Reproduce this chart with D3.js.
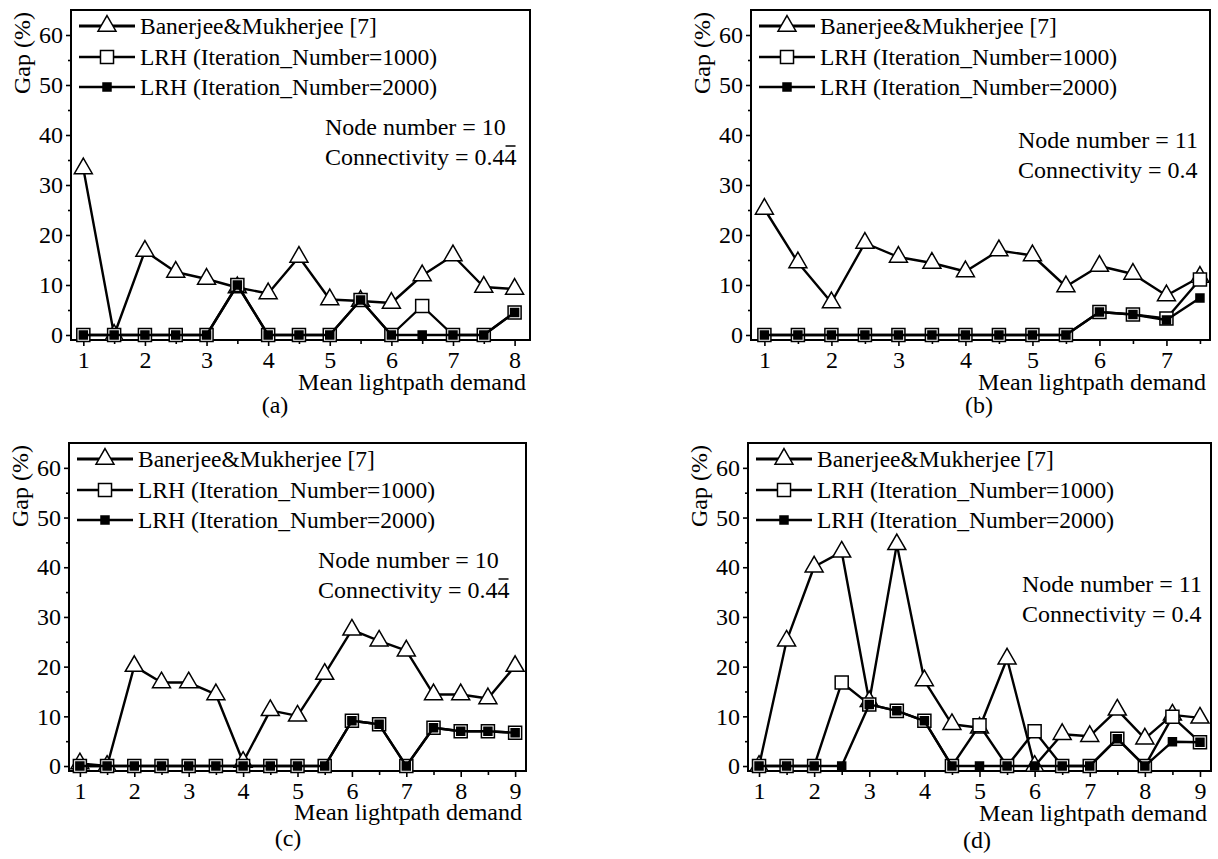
<!DOCTYPE html>
<html>
<head>
<meta charset="utf-8">
<script src="https://cdn.jsdelivr.net/npm/d3@7"></script>
<style>
  body { margin: 0; background: #fff; }
  svg text { font-family: "Liberation Serif", "Times New Roman", serif; fill: #000; }
</style>
</head>
<body>
<div id="chart"></div>
<script>
// values (Gap in %)
var demandA = [1, 1.5, 2, 2.5, 3, 3.5, 4, 4.5, 5, 5.5, 6, 6.5, 7, 7.5, 8];
var banerjeeA = [33.3, 0, 16.8, 12.6, 11.2, 9.5, 8.3, 15.6, 7.1, 6.8, 6.4, 11.9, 15.9, 9.6, 9.2];
var lrh1000A = [0, 0, 0, 0, 0, 10, 0, 0, 0, 7, 0, 5.8, 0, 0, 4.5];
var lrh2000A = [0, 0, 0, 0, 0, 10, 0, 0, 0, 7, 0, 0, 0, 0, 4.5];

var demandB = [1, 1.5, 2, 2.5, 3, 3.5, 4, 4.5, 5, 5.5, 6, 6.5, 7, 7.5];
var banerjeeB = [25.2, 14.5, 6.5, 18.4, 15.6, 14.4, 12.7, 16.9, 15.9, 9.7, 13.8, 12.2, 7.9, 11.6];
var lrh1000B = [0, 0, 0, 0, 0, 0, 0, 0, 0, 0, 4.6, 4.1, 3.3, 11.1];
var lrh2000B = [0, 0, 0, 0, 0, 0, 0, 0, 0, 0, 4.6, 4.1, 3.0, 7.4];

var demandC = [1, 1.5, 2, 2.5, 3, 3.5, 4, 4.5, 5, 5.5, 6, 6.5, 7, 7.5, 8, 8.5, 9];
var banerjeeC = [0.5, 0, 20.1, 16.8, 16.8, 14.4, 0.8, 11.2, 10.1, 18.5, 27.4, 25.2, 23.2, 14.4, 14.4, 13.6, 20.1];
var lrh1000C = [0, 0, 0, 0, 0, 0, 0, 0, 0, 0, 9.1, 8.4, 0, 7.7, 7.0, 7.0, 6.7];
var lrh2000C = [0, 0, 0, 0, 0, 0, 0, 0, 0, 0, 9.1, 8.4, 0, 7.7, 7.0, 7.0, 6.7];

var demandD = [1, 1.5, 2, 2.5, 3, 3.5, 4, 4.5, 5, 5.5, 6, 6.5, 7, 7.5, 8, 8.5, 9];
var banerjeeD = [0, 25.2, 40.1, 43.1, 13, 44.6, 17.2, 8.4, 7.7, 21.6, 0, 6.4, 6.0, 11.3, 5.5, 10.3, 9.7];
var lrh1000D = [0, 0, 0, 16.8, 12.4, 11.1, 9.1, 0, 8.2, 0, 7.0, 0, 0, 5.5, 0, 9.9, 4.8];
var lrh2000D = [0, 0, 0, 0, 12.4, 11.1, 9.1, 0, 0, 0, 0, 0, 0, 5.5, 0, 4.9, 4.8];

var gapTicks = [0, 10, 20, 30, 40, 50, 60];
var gapMinor = [5, 15, 25, 35, 45, 55];
var seriesNames = ["Banerjee&Mukherjee [7]", "LRH (Iteration_Number=1000)", "LRH (Iteration_Number=2000)"];
var yTitle = "Gap (%)";
var xTitle = "Mean lightpath demand";
var captions = ["(a)", "(b)", "(c)", "(d)"];
var nodeNotes = ["Node number = 10", "Node number = 11", "Node number = 10", "Node number = 11"];
// connectivity: main part, then the repeating digit (drawn with a bar over it)
var connNotes = [["Connectivity = 0.4", "4"], ["Connectivity = 0.4", ""], ["Connectivity = 0.4", "4"], ["Connectivity = 0.4", ""]];

function main() {
	var width = 1218;
	var height = 859;

	var svg = d3.select('#chart')
				.append('svg')
				.attr('width', width)
				.attr('height', height);

	// frame boxes and where the texts sit
	var panels = [
		{demand: demandA, series: [banerjeeA, lrh1000A, lrh2000A], xMax: 8.25,
		 left: 71, right: 530, top: 10, bottom: 340, noteX: 325, noteY: 135, xTitleY: 390, capX: 275, capY: 413},
		{demand: demandB, series: [banerjeeB, lrh1000B, lrh2000B], xMax: 7.65,
		 left: 751, right: 1210, top: 10, bottom: 340, noteX: 1018, noteY: 148, xTitleY: 390, capX: 979, capY: 413},
		{demand: demandC, series: [banerjeeC, lrh1000C, lrh2000C], xMax: 9.2,
		 left: 69, right: 526, top: 443, bottom: 771, noteX: 318, noteY: 568, xTitleY: 820, capX: 288, capY: 846},
		{demand: demandD, series: [banerjeeD, lrh1000D, lrh2000D], xMax: 9.2,
		 left: 748, right: 1211, top: 443, bottom: 771, noteX: 1022, noteY: 592, xTitleY: 821, capX: 977, capY: 848}
	];

	panels.forEach(function(p, i) {
		drawPanel(svg, p, i);
	});
}

function drawPanel(svg, p, i) {
	var g = svg.append('g');

	var x = d3.scaleLinear().domain([0.8, p.xMax]).range([p.left, p.right]);
	var y = d3.scaleLinear().domain([-1, 65]).range([p.bottom, p.top]);

	var lastX = p.demand[p.demand.length - 1];
	var majorX = d3.range(1, Math.floor(lastX) + 1);
	var minorX = p.demand.filter(function(d) { return d % 1 !== 0; });

	// y axis, major + minor ticks
	g.append('g')
		.attr('transform', 'translate(' + p.left + ',0)')
		.call(d3.axisLeft(y).tickValues(gapTicks).tickSize(5).tickPadding(3).tickFormat(d3.format('d')));
	g.append('g')
		.attr('transform', 'translate(' + p.left + ',0)')
		.call(d3.axisLeft(y).tickValues(gapMinor).tickSize(3).tickFormat(''));

	// x axis
	g.append('g')
		.attr('transform', 'translate(0,' + p.bottom + ')')
		.call(d3.axisBottom(x).tickValues(majorX).tickSize(6).tickPadding(5).tickFormat(d3.format('d')));
	g.append('g')
		.attr('transform', 'translate(0,' + p.bottom + ')')
		.call(d3.axisBottom(x).tickValues(minorX).tickSize(4).tickFormat(''));

	g.selectAll('.domain').remove();
	g.selectAll('.tick line').attr('stroke', '#000').attr('stroke-width', 1.6);
	g.selectAll('.tick text').attr('font-size', 24).attr('font-family', '"Liberation Serif", serif');

	// box round the plot
	g.append('rect')
		.attr('x', p.left)
		.attr('y', p.top)
		.attr('width', p.right - p.left)
		.attr('height', p.bottom - p.top)
		.attr('fill', 'none')
		.attr('stroke', '#000')
		.attr('stroke-width', 2);

	// axis titles
	g.append('text')
		.attr('transform', 'translate(' + (p.left - 41) + ',' + (p.top + 2) + ') rotate(-90)')
		.attr('text-anchor', 'end')
		.attr('font-size', 24)
		.text(yTitle);

	g.append('text')
		.attr('x', p.right - 4)
		.attr('y', p.xTitleY)
		.attr('text-anchor', 'end')
		.attr('font-size', 24)
		.text(xTitle);

	g.append('text')
		.attr('x', p.capX)
		.attr('y', p.capY)
		.attr('text-anchor', 'middle')
		.attr('font-size', 24)
		.text(captions[i]);

	// series lines + markers
	var line = d3.line()
				.x(function(d) { return x(d[0]); })
				.y(function(d) { return y(d[1]); });

	var markers = [
		d3.symbol().type(d3.symbolTriangle).size(140),
		d3.symbol().type(d3.symbolSquare).size(170),
		d3.symbol().type(d3.symbolSquare).size(64)
	];
	var fills = ['#fff', '#fff', '#000'];

	p.series.forEach(function(vals, s) {
		var pts = p.demand.map(function(d, k) { return [d, vals[k]]; });

		g.append('path')
			.datum(pts)
			.attr('d', line)
			.attr('fill', 'none')
			.attr('stroke', '#000')
			.attr('stroke-width', 2.4)
			.attr('stroke-linejoin', 'round');

		g.selectAll('.m' + s)
			.data(pts)
			.enter()
			.append('path')
			.attr('class', 'm' + s)
			.attr('d', markers[s])
			.attr('transform', function(d) { return 'translate(' + x(d[0]) + ',' + y(d[1]) + ')'; })
			.attr('fill', fills[s])
			.attr('stroke', '#000')
			.attr('stroke-width', 1.5);
	});

	// legend
	var rows = [16, 47, 77];
	seriesNames.forEach(function(name, s) {
		var ry = p.top + rows[s];
		g.append('line')
			.attr('x1', p.left + 8)
			.attr('x2', p.left + 64)
			.attr('y1', ry)
			.attr('y2', ry)
			.attr('stroke', '#000')
			.attr('stroke-width', s === 0 ? 3 : 2.5);
		g.append('path')
			.attr('d', markers[s])
			.attr('transform', 'translate(' + (p.left + 36) + ',' + ry + ')')
			.attr('fill', fills[s])
			.attr('stroke', '#000')
			.attr('stroke-width', 1.5);
		g.append('text')
			.attr('x', p.left + 69)
			.attr('y', ry + 8)
			.attr('font-size', 23.5)
			.text(name);
	});

	// node / connectivity note
	g.append('text')
		.attr('x', p.noteX)
		.attr('y', p.noteY)
		.attr('font-size', 24)
		.text(nodeNotes[i]);

	var conn = g.append('text')
				.attr('x', p.noteX)
				.attr('y', p.noteY + 30)
				.attr('font-size', 24);
	conn.append('tspan').text(connNotes[i][0]);
	if (connNotes[i][1] !== '') {
		var bar = conn.append('tspan').text(connNotes[i][1]);
		// bar over the repeating digit
		var start = conn.node().getSubStringLength(0, connNotes[i][0].length);
		var w = bar.node().getComputedTextLength();
		g.append('line')
			.attr('x1', p.noteX + start + 1)
			.attr('x2', p.noteX + start + w - 1)
			.attr('y1', p.noteY + 30 - 19)
			.attr('y2', p.noteY + 30 - 19)
			.attr('stroke', '#000')
			.attr('stroke-width', 1.5);
	}
}

main();
</script>
</body>
</html>
